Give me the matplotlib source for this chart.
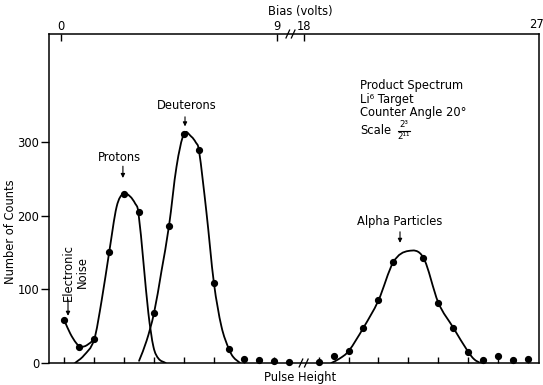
import numpy as np
import matplotlib
matplotlib.use("Agg")
import matplotlib.pyplot as plt
from matplotlib.path import Path
from matplotlib.patches import PathPatch

# Measured spectrum: channel number vs. number of counts
channels = [0, 1, 2, 3, 4, 5, 6, 7, 8, 9, 10, 11, 12, 13, 14, 15,
            17, 18, 19, 20, 21, 22, 24, 25, 26, 27, 28, 29, 30, 31]
counts = [58, 22, 32, 150, 229, 205, 68, 186, 311, 289, 109, 19, 6, 4, 3, 1,
          2, 9, 16, 48, 85, 137, 143, 82, 48, 15, 4, 10, 4, 5]

# Hand-drawn curves through the peaks (knots of the smooth curves)
noise_curve_x = [0.0, 0.4, 0.8, 1.1, 1.5, 2.0]
noise_curve_y = [58, 40, 27, 22, 24, 32]

proton_curve_x = [0.72, 1.3, 2.0, 2.5, 3.0, 3.5, 3.95, 4.4, 4.75, 4.95, 5.3, 5.62, 5.96, 6.3, 6.78]
proton_curve_y = [0, 10, 32, 85, 150, 212, 230, 226, 216, 205, 135, 68, 22, 6, 0]

deuteron_curve_x = [5.0, 5.5, 6.0, 6.5, 7.0, 7.5, 8.0, 8.5, 8.8, 9.0, 9.5, 10.0, 10.5, 11.0, 11.3, 11.75]
deuteron_curve_y = [3, 30, 68, 125, 186, 266, 311, 307, 299, 289, 205, 109, 50, 19, 8, 0]

alpha_curve_x = [17.85, 18.4, 19.0, 20.0, 21.0, 22.0, 23.0, 24.0, 25.0, 26.0, 27.0, 27.4, 27.8]
alpha_curve_y = [0, 6, 16, 48, 85, 137, 152, 143, 82, 48, 15, 5, 0]

# Axis labelling
y_ticks = [0, 100, 200, 300]
pulse_ticks = [0, 2, 4, 6, 8, 10, 12, 14, 17, 19, 21, 23, 25, 27, 29, 31]
bias_labels = ["0", "9", "18"]
bias_tick_at = [-0.25, 14.2, 16.05]
info_lines = ["Product Spectrum", "Li\u2076 Target", "Counter Angle 20°", "Scale"]
scale_numerator = "2\u00b3"
scale_denominator = "2\u00b9\u00b9"

plt.rcParams["font.family"] = ["DejaVu Sans"]

W, H = 543, 385
FS = 8.3
fig = plt.figure(figsize=(W / 100, H / 100), dpi=100)
ax = fig.add_axes([49 / W, (H - 363) / H, (539 - 49) / W, (363 - 34) / H])
ax.set_xlim(-1.02, 31.73)
ax.set_ylim(0, 446.4)


def smooth_path(xs, ys):
    """Cubic Bezier path through the knots with centred-difference tangents."""
    x = np.asarray(xs, float)
    y = np.asarray(ys, float)
    h = np.diff(x)
    n = len(x)
    m = np.empty(n)
    m[1:-1] = (y[2:] - y[:-2]) / (x[2:] - x[:-2])
    m[0] = (y[1] - y[0]) / h[0]
    m[-1] = (y[-1] - y[-2]) / h[-1]
    verts = [(x[0], y[0])]
    codes = [Path.MOVETO]
    for i in range(n - 1):
        verts += [(x[i] + h[i] / 3, y[i] + m[i] * h[i] / 3),
                  (x[i + 1] - h[i] / 3, y[i + 1] - m[i + 1] * h[i] / 3),
                  (x[i + 1], y[i + 1])]
        codes += [Path.CURVE4] * 3
    return Path(verts, codes)


for cx, cy in [(noise_curve_x, noise_curve_y), (proton_curve_x, proton_curve_y),
               (deuteron_curve_x, deuteron_curve_y), (alpha_curve_x, alpha_curve_y)]:
    ax.add_patch(PathPatch(smooth_path(cx, cy), fill=False, lw=1.3,
                           edgecolor="black", capstyle="round", zorder=3))

ax.plot(channels, counts, "o", color="black", ms=4.2, zorder=4, clip_on=False)

# Frame
for s in ax.spines.values():
    s.set_linewidth(1.1)
ax.set_yticks(y_ticks)
ax.set_yticklabels([str(v) for v in y_ticks])
ax.tick_params(axis="y", direction="out", length=6, width=1, labelsize=FS, pad=1)
ax.set_xticks(pulse_ticks)
ax.tick_params(axis="x", direction="in", length=4, width=1, labelbottom=False)

top = ax.secondary_xaxis("top")
top.set_xticks(bias_tick_at)
top.set_xticklabels(bias_labels)
top.tick_params(direction="in", length=5, width=1, labelsize=FS, pad=1)
top.spines["top"].set_visible(False)
ax.text(31.55, 1.008, "27", transform=ax.get_xaxis_transform(), ha="center",
        va="bottom", fontsize=FS)

# Break marks on the top and bottom edges
def break_mark(xc, yax):
    tr = ax.get_xaxis_transform()
    for dx in (-0.18, 0.18):
        ax.plot([xc + dx - 0.12, xc + dx + 0.12], [yax - 0.012, yax + 0.012],
                transform=tr, color="black", lw=0.9, clip_on=False, zorder=5)

break_mark(16.0, 0.0)
break_mark(15.12, 1.0)

fig.text(300 / W, 1 - 11 / H, "Bias (volts)", ha="center", va="center", fontsize=FS)
fig.text(300 / W, 1 - 378 / H, "Pulse Height", ha="center", va="center", fontsize=FS)
fig.text(11 / W, 1 - 232 / H, "Number of Counts", ha="center", va="center",
         rotation=90, fontsize=FS)

# Peak annotations
arrow = dict(arrowstyle="-|>", lw=0.8, color="black", mutation_scale=6,
             shrinkA=0, shrinkB=0)
ax.text(3.72, 279, "Protons", ha="center", va="center", fontsize=FS)
ax.annotate("", xy=(3.92, 251), xytext=(3.92, 267), arrowprops=arrow)
ax.text(8.2, 350, "Deuterons", ha="center", va="center", fontsize=FS)
ax.annotate("", xy=(8.07, 321), xytext=(8.07, 334), arrowprops=arrow)
ax.text(22.44, 192, "Alpha Particles", ha="center", va="center", fontsize=FS)
ax.annotate("", xy=(22.44, 163), xytext=(22.44, 178), arrowprops=arrow)
ax.text(0.72, 123, "Electronic\nNoise", ha="center", va="center", rotation=90,
        multialignment="center", fontsize=FS, linespacing=1.1)
ax.annotate("", xy=(0.25, 64), xytext=(0.25, 86), arrowprops=arrow)

# Run information
info_y = [376, 358, 340, 315]
for yv, line in zip(info_y, info_lines):
    ax.text(19.75, yv, line, ha="left", va="center", fontsize=FS)
frac_x = 22.7
ax.text(frac_x, 323, scale_numerator, ha="center", va="center", fontsize=6.3)
ax.text(frac_x, 307, scale_denominator, ha="center", va="center", fontsize=6.3)
ax.plot([frac_x - 0.4, frac_x + 0.4], [315, 315], color="black", lw=0.8)

fig.savefig("out.png", dpi=100)
